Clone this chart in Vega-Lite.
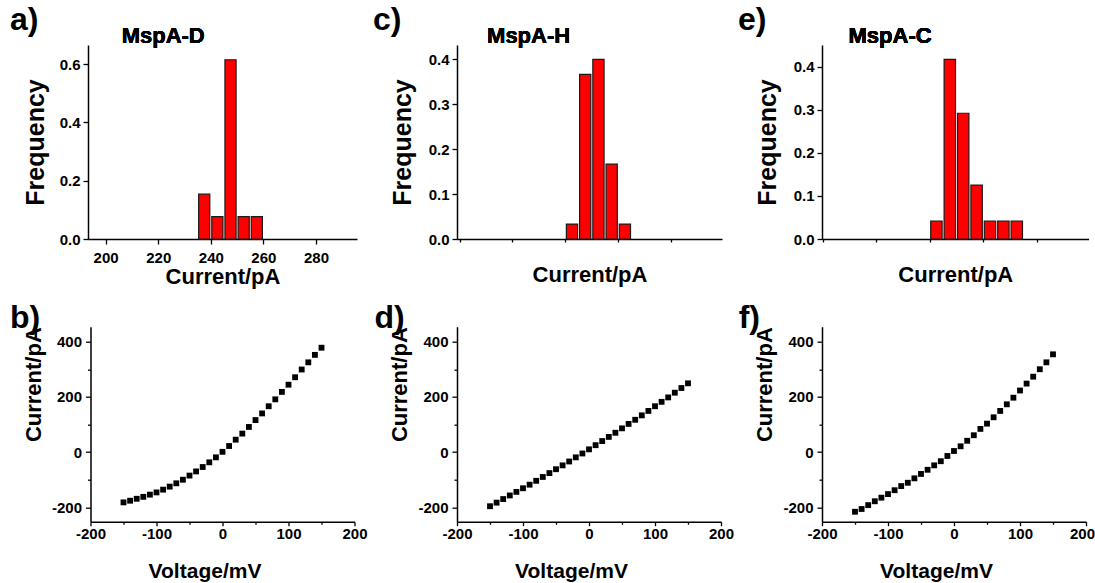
{
  "$schema": "https://vega.github.io/schema/vega-lite/v6.json",
  "padding": {"left": 10, "top": 3, "right": 0, "bottom": 0},
  "columns": 3,
  "align": "each",
  "bounds": "flush",
  "center": true,
  "spacing": {"row": 87.7, "column": 100},
  "datasets": {
    "histD": [
      {"start": 235, "end": 240, "freq": 0.1538},
      {"start": 240, "end": 245, "freq": 0.0769},
      {"start": 245, "end": 250, "freq": 0.6154},
      {"start": 250, "end": 255, "freq": 0.0769},
      {"start": 255, "end": 260, "freq": 0.0769}
    ],
    "histH": [
      {"start": 150, "end": 155, "freq": 0.0333},
      {"start": 155, "end": 160, "freq": 0.3667},
      {"start": 160, "end": 165, "freq": 0.4},
      {"start": 165, "end": 170, "freq": 0.1667},
      {"start": 170, "end": 175, "freq": 0.0333}
    ],
    "histC": [
      {"start": 210, "end": 215, "freq": 0.0417},
      {"start": 215, "end": 220, "freq": 0.4167},
      {"start": 220, "end": 225, "freq": 0.2917},
      {"start": 225, "end": 230, "freq": 0.125},
      {"start": 230, "end": 235, "freq": 0.0417},
      {"start": 235, "end": 240, "freq": 0.0417},
      {"start": 240, "end": 245, "freq": 0.0417}
    ],
    "ivD": [
      {"V": -150, "I": -182}, {"V": -140, "I": -176}, {"V": -130, "I": -169}, {"V": -120, "I": -162},
      {"V": -110, "I": -154}, {"V": -100, "I": -146}, {"V": -90, "I": -136}, {"V": -80, "I": -125},
      {"V": -70, "I": -113}, {"V": -60, "I": -100}, {"V": -50, "I": -85}, {"V": -40, "I": -70},
      {"V": -30, "I": -54}, {"V": -20, "I": -37}, {"V": -10, "I": -19}, {"V": 0, "I": 1},
      {"V": 10, "I": 22}, {"V": 20, "I": 45}, {"V": 30, "I": 67}, {"V": 40, "I": 91},
      {"V": 50, "I": 116}, {"V": 60, "I": 140}, {"V": 70, "I": 166}, {"V": 80, "I": 191},
      {"V": 90, "I": 218}, {"V": 100, "I": 244}, {"V": 110, "I": 271}, {"V": 120, "I": 299},
      {"V": 130, "I": 325}, {"V": 140, "I": 352}, {"V": 150, "I": 378}
    ],
    "ivH": [
      {"V": -150, "I": -196}, {"V": -140, "I": -183}, {"V": -130, "I": -170}, {"V": -120, "I": -157},
      {"V": -110, "I": -144}, {"V": -100, "I": -131}, {"V": -90, "I": -118}, {"V": -80, "I": -104},
      {"V": -70, "I": -90}, {"V": -60, "I": -76}, {"V": -50, "I": -62}, {"V": -40, "I": -48},
      {"V": -30, "I": -34}, {"V": -20, "I": -19}, {"V": -10, "I": -5}, {"V": 0, "I": 10},
      {"V": 10, "I": 25}, {"V": 20, "I": 40}, {"V": 30, "I": 55}, {"V": 40, "I": 70},
      {"V": 50, "I": 86}, {"V": 60, "I": 102}, {"V": 70, "I": 117}, {"V": 80, "I": 133},
      {"V": 90, "I": 149}, {"V": 100, "I": 166}, {"V": 110, "I": 182}, {"V": 120, "I": 198},
      {"V": 130, "I": 215}, {"V": 140, "I": 232}, {"V": 150, "I": 249}
    ],
    "ivC": [
      {"V": -150, "I": -216}, {"V": -140, "I": -206}, {"V": -130, "I": -192}, {"V": -120, "I": -178},
      {"V": -110, "I": -165}, {"V": -100, "I": -152}, {"V": -90, "I": -138}, {"V": -80, "I": -123},
      {"V": -70, "I": -111}, {"V": -60, "I": -95}, {"V": -50, "I": -79}, {"V": -40, "I": -64},
      {"V": -30, "I": -48}, {"V": -20, "I": -33}, {"V": -10, "I": -14}, {"V": 0, "I": 4},
      {"V": 10, "I": 21}, {"V": 20, "I": 41}, {"V": 30, "I": 61}, {"V": 40, "I": 84},
      {"V": 50, "I": 103}, {"V": 60, "I": 126}, {"V": 70, "I": 149}, {"V": 80, "I": 173},
      {"V": 90, "I": 197}, {"V": 100, "I": 223}, {"V": 110, "I": 248}, {"V": 120, "I": 273},
      {"V": 130, "I": 300}, {"V": 140, "I": 325}, {"V": 150, "I": 354}
    ]
  },
  "concat": [
    {
      "width": 269, "height": 194,
      "title": {"text": "a)", "anchor": "start", "frame": "group", "dx": -78, "offset": 0, "dy": 37, "baseline": "alphabetic", "fontSize": 32, "fontWeight": "bold", "color": "black"},
      "data": {"name": "histD"},
      "layer": [
        {
          "mark": {"type": "bar", "color": "#ff0000", "stroke": "#1a1a1a", "strokeWidth": 1.2, "xOffset": 1, "x2Offset": -1},
          "encoding": {
            "x": {"field": "start", "type": "quantitative",
              "scale": {"domain": [193.3, 295.6], "nice": false, "zero": false},
              "axis": {"title": "Current/pA", "titleFontSize": 22, "titlePadding": 1, "values": [200, 210, 220, 230, 240, 250, 260, 270, 280, 290],
                "labelExpr": "datum.value % 20 === 0 ? '' + datum.value : ' '", "labelFlush": false, "labelOverlap": false, "labelPadding": 6,
                "tickSize": {"condition": {"test": "datum.value % 20 !== 0", "value": 3}, "value": 5}}},
            "x2": {"field": "end"},
            "y": {"field": "freq", "type": "quantitative",
              "scale": {"domain": [0, 0.666], "nice": false},
              "axis": {"title": "Frequency", "titleFontSize": 25, "titlePadding": 11, "values": [0, 0.1, 0.2, 0.3, 0.4, 0.5, 0.6],
                "labelExpr": "round(datum.value * 10) % 2 === 0 ? format(datum.value, '.1f') : ' '", "labelOverlap": false, "labelPadding": 3,
                "tickSize": {"condition": {"test": "round(datum.value * 10) % 2 !== 0", "value": 3}, "value": 5}}},
            "y2": {"datum": 0}
          }
        },
        {
          "mark": {"type": "text", "text": "MspA-D", "fontSize": 22, "fontWeight": "bold", "align": "left", "baseline": "alphabetic", "color": "black"},
          "encoding": {"x": {"datum": 206.1}, "y": {"datum": 0.674}}
        }
      ]
    },
    {
      "width": 265, "height": 194,
      "title": {"text": "c)", "anchor": "start", "frame": "group", "dx": -84, "offset": 0, "dy": 37, "baseline": "alphabetic", "fontSize": 32, "fontWeight": "bold", "color": "black"},
      "data": {"name": "histH"},
      "layer": [
        {
          "mark": {"type": "bar", "color": "#ff0000", "stroke": "#1a1a1a", "strokeWidth": 1.2, "xOffset": 1, "x2Offset": -1},
          "encoding": {
            "x": {"field": "start", "type": "quantitative",
              "scale": {"domain": [109.04, 209.2], "nice": false, "zero": false},
              "axis": {"title": "Current/pA", "titleFontSize": 22, "titlePadding": 1, "values": [110, 120, 130, 140, 150, 160, 170, 180, 190, 200],
                "labelExpr": "datum.value % 20 === 0 ? '' + datum.value : ' '", "labelFlush": false, "labelOverlap": false, "labelPadding": 6,
                "tickSize": {"condition": {"test": "datum.value % 20 !== 0", "value": 3}, "value": 5}}},
            "x2": {"field": "end"},
            "y": {"field": "freq", "type": "quantitative",
              "scale": {"domain": [0, 0.432], "nice": false},
              "axis": {"title": "Frequency", "titleFontSize": 25, "titlePadding": 13, "values": [0, 0.05, 0.1, 0.15, 0.2, 0.25, 0.3, 0.35, 0.4],
                "labelExpr": "round(datum.value * 100) % 10 === 0 ? format(datum.value, '.1f') : ' '", "labelOverlap": false, "labelPadding": 3,
                "tickSize": {"condition": {"test": "round(datum.value * 100) % 10 !== 0", "value": 3}, "value": 5}}},
            "y2": {"datum": 0}
          }
        },
        {
          "mark": {"type": "text", "text": "MspA-H", "fontSize": 22, "fontWeight": "bold", "align": "left", "baseline": "alphabetic", "color": "black"},
          "encoding": {"x": {"datum": 120.4}, "y": {"datum": 0.437}}
        }
      ]
    },
    {
      "width": 266.6, "height": 194,
      "title": {"text": "e)", "anchor": "start", "frame": "group", "dx": -84, "offset": 0, "dy": 37, "baseline": "alphabetic", "fontSize": 32, "fontWeight": "bold", "color": "black"},
      "data": {"name": "histC"},
      "layer": [
        {
          "mark": {"type": "bar", "color": "#ff0000", "stroke": "#1a1a1a", "strokeWidth": 1.2, "xOffset": 1, "x2Offset": -1},
          "encoding": {
            "x": {"field": "start", "type": "quantitative",
              "scale": {"domain": [169.8, 269.3], "nice": false, "zero": false},
              "axis": {"title": "Current/pA", "titleFontSize": 22, "titlePadding": 1, "values": [170, 180, 190, 200, 210, 220, 230, 240, 250, 260],
                "labelExpr": "datum.value % 20 === 0 ? '' + datum.value : ' '", "labelFlush": false, "labelOverlap": false, "labelPadding": 6,
                "tickSize": {"condition": {"test": "datum.value % 20 !== 0", "value": 3}, "value": 5}}},
            "x2": {"field": "end"},
            "y": {"field": "freq", "type": "quantitative",
              "scale": {"domain": [0, 0.45], "nice": false},
              "axis": {"title": "Frequency", "titleFontSize": 25, "titlePadding": 13, "values": [0, 0.05, 0.1, 0.15, 0.2, 0.25, 0.3, 0.35, 0.4],
                "labelExpr": "round(datum.value * 100) % 10 === 0 ? format(datum.value, '.1f') : ' '", "labelOverlap": false, "labelPadding": 3,
                "tickSize": {"condition": {"test": "round(datum.value * 100) % 10 !== 0", "value": 3}, "value": 5}}},
            "y2": {"datum": 0}
          }
        },
        {
          "mark": {"type": "text", "text": "MspA-C", "fontSize": 22, "fontWeight": "bold", "align": "left", "baseline": "alphabetic", "color": "black"},
          "encoding": {"x": {"datum": 179.7}, "y": {"datum": 0.4555}}
        }
      ]
    },
    {
      "width": 264, "height": 195,
      "title": {"text": "b)", "anchor": "start", "frame": "group", "dx": -80.5, "offset": 0, "dy": 33, "baseline": "alphabetic", "fontSize": 32, "fontWeight": "bold", "color": "black"},
      "data": {"name": "ivD"},
      "mark": {"type": "point", "shape": "square", "filled": true, "size": 34, "color": "black", "opacity": 1},
      "encoding": {
        "x": {"field": "V", "type": "quantitative",
          "scale": {"domain": [-200, 200], "nice": false},
          "axis": {"title": "Voltage/mV", "titleFontSize": 21, "titleX": 114, "titleY": 39, "titleAlign": "center", "titleBaseline": "top", "values": [-200, -150, -100, -50, 0, 50, 100, 150, 200],
            "labelExpr": "datum.value % 100 === 0 ? '' + datum.value : ' '", "labelFlush": false, "labelOverlap": false, "labelPadding": 1,
            "tickSize": {"condition": {"test": "datum.value % 100 !== 0", "value": 2.5}, "value": 4}}},
        "y": {"field": "I", "type": "quantitative",
          "scale": {"domain": [-252, 454], "nice": false, "zero": false},
          "axis": {"title": "Current/pA", "titleFontSize": 22, "titleAnchor": "end", "titlePadding": 6, "values": [-200, -100, 0, 100, 200, 300, 400],
            "labelExpr": "datum.value % 200 === 0 ? '' + datum.value : ' '", "labelOverlap": false, "labelPadding": 4,
            "tickSize": {"condition": {"test": "datum.value % 200 !== 0", "value": 3}, "value": 5}}}
      }
    },
    {
      "width": 264, "height": 195,
      "title": {"text": "d)", "anchor": "start", "frame": "group", "dx": -82.5, "offset": 0, "dy": 33, "baseline": "alphabetic", "fontSize": 32, "fontWeight": "bold", "color": "black"},
      "data": {"name": "ivH"},
      "mark": {"type": "point", "shape": "square", "filled": true, "size": 34, "color": "black", "opacity": 1},
      "encoding": {
        "x": {"field": "V", "type": "quantitative",
          "scale": {"domain": [-200, 200], "nice": false},
          "axis": {"title": "Voltage/mV", "titleFontSize": 21, "titleX": 114, "titleY": 39, "titleAlign": "center", "titleBaseline": "top", "values": [-200, -150, -100, -50, 0, 50, 100, 150, 200],
            "labelExpr": "datum.value % 100 === 0 ? '' + datum.value : ' '", "labelFlush": false, "labelOverlap": false, "labelPadding": 1,
            "tickSize": {"condition": {"test": "datum.value % 100 !== 0", "value": 2.5}, "value": 4}}},
        "y": {"field": "I", "type": "quantitative",
          "scale": {"domain": [-252, 454], "nice": false, "zero": false},
          "axis": {"title": "Current/pA", "titleFontSize": 22, "titleAnchor": "end", "titlePadding": 6, "values": [-200, -100, 0, 100, 200, 300, 400],
            "labelExpr": "datum.value % 200 === 0 ? '' + datum.value : ' '", "labelOverlap": false, "labelPadding": 4,
            "tickSize": {"condition": {"test": "datum.value % 200 !== 0", "value": 3}, "value": 5}}}
      }
    },
    {
      "width": 264, "height": 195,
      "title": {"text": "f)", "anchor": "start", "frame": "group", "dx": -83.3, "offset": 0, "dy": 33, "baseline": "alphabetic", "fontSize": 32, "fontWeight": "bold", "color": "black"},
      "data": {"name": "ivC"},
      "mark": {"type": "point", "shape": "square", "filled": true, "size": 34, "color": "black", "opacity": 1},
      "encoding": {
        "x": {"field": "V", "type": "quantitative",
          "scale": {"domain": [-200, 200], "nice": false},
          "axis": {"title": "Voltage/mV", "titleFontSize": 21, "titleX": 114, "titleY": 39, "titleAlign": "center", "titleBaseline": "top", "values": [-200, -150, -100, -50, 0, 50, 100, 150, 200],
            "labelExpr": "datum.value % 100 === 0 ? '' + datum.value : ' '", "labelFlush": false, "labelOverlap": false, "labelPadding": 1,
            "labelOffset": {"condition": {"test": "datum.value === 200", "value": -4}, "value": 0},
            "tickSize": {"condition": {"test": "datum.value % 100 !== 0", "value": 2.5}, "value": 4}}},
        "y": {"field": "I", "type": "quantitative",
          "scale": {"domain": [-252, 454], "nice": false, "zero": false},
          "axis": {"title": "Current/pA", "titleFontSize": 22, "titleAnchor": "end", "titlePadding": 6, "values": [-200, -100, 0, 100, 200, 300, 400],
            "labelExpr": "datum.value % 200 === 0 ? '' + datum.value : ' '", "labelOverlap": false, "labelPadding": 4,
            "tickSize": {"condition": {"test": "datum.value % 200 !== 0", "value": 3}, "value": 5}}}
      }
    }
  ],
  "config": {
    "font": "Liberation Sans",
    "view": {"stroke": null},
    "axis": {"domainColor": "black", "domainWidth": 1.5, "tickColor": "black", "tickWidth": 1.3, "labelColor": "black", "labelFont": "Liberation Sans", "labelFontWeight": "bold", "labelFontSize": 15, "titleColor": "black", "titleFont": "Liberation Sans", "titleFontWeight": "bold", "grid": false, "labelOverlap": false, "labelBound": false},
    "title": {"font": "Liberation Sans"}
  }
}
